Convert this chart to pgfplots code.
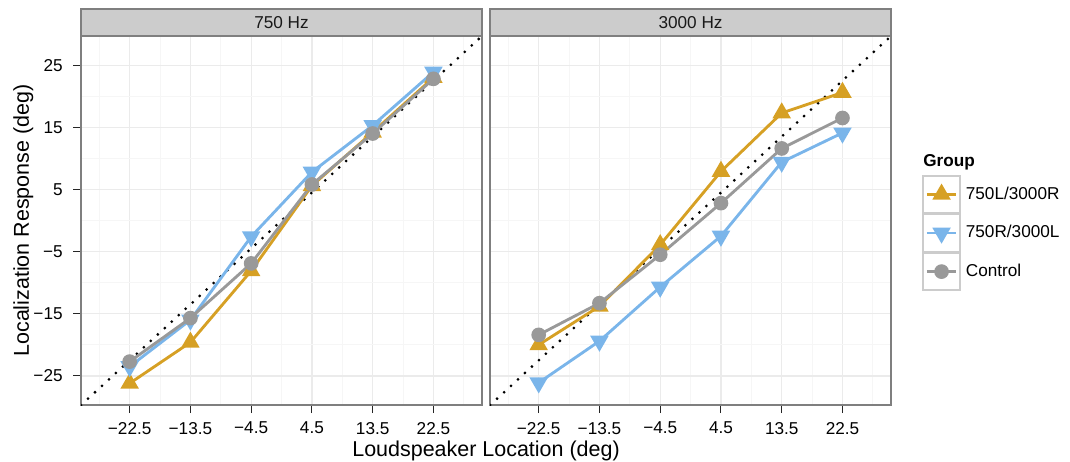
\documentclass[border=0pt]{standalone}
\usepackage{pgfplots}
\pgfplotsset{compat=1.18}
\usepackage{fontspec}
\setmainfont{Liberation Sans}
\definecolor{corange}{HTML}{D6A024}
\definecolor{cblue}{HTML}{7AB5EA}
\definecolor{cgrey}{HTML}{999999}
\definecolor{gmajor}{HTML}{EBEBEB}
\definecolor{gminor}{HTML}{F6F6F6}
\definecolor{pborder}{HTML}{7F7F7F}
\definecolor{stripfill}{HTML}{CCCCCC}
\newcommand{\tfont}{\fontsize{9.6}{11.5}\selectfont}
\pgfplotsset{
  panel/.style={
    width=224.1pt, height=206.3pt, scale only axis,
    xmin=-29.7, xmax=29.7, ymin=-29.7, ymax=29.7,
    xtick={-22.5,-13.5,-4.5,4.5,13.5,22.5},
    xticklabels={−22.5,−13.5,−4.5,4.5,13.5,22.5},
    minor xtick={-27,-18,-9,0,9,18,27},
    ytick={-25,-15,-5,5,15,25},
    yticklabels={−25,−15,−5,5,15,25},
    minor ytick={-20,-10,0,10,20},
    grid=both,
    major grid style={gmajor, line width=0.7pt},
    minor grid style={gminor, line width=0.45pt},
    axis line style={pborder, line width=0.9pt},
    tick align=outside, tickpos=left,
    major tick length=4.5pt, minor tick length=0pt,
    tick style={black!85, line width=0.6pt},
    ticklabel style={font=\tfont, text=black},
    xticklabel style={anchor=north, inner sep=0pt, yshift=-4.8pt},
    yticklabel style={anchor=east, inner sep=0pt, xshift=-5.6pt},
    every axis plot/.append style={line width=1.6pt},
    legend image code/.code={
      \draw[draw=black!20, fill=white, line width=0.9pt, solid] (0pt,-10.35pt) rectangle (20.7pt,10.35pt);
      \draw[mark repeat=2, mark phase=2] plot coordinates {(2.2pt,0pt) (10.35pt,0pt) (18.5pt,0pt)};
    },
  },
  sL/.style={corange, mark=triangle*, mark size=4.4pt, mark options={solid, fill=corange, draw=none}},
  sR/.style={cblue, mark=triangle*, mark size=4.4pt, mark options={solid, fill=cblue, draw=none, rotate=180}},
  sC/.style={cgrey, mark=*, mark size=3.3pt, mark options={solid, fill=cgrey, draw=none}},
  idline/.style={black, line width=1.7pt, line cap=round, dash pattern=on 0pt off 5.3pt, mark=none},
}
\begin{document}
\begin{tikzpicture}
\useasboundingbox (-45.3pt,-31.6pt) rectangle (552.7pt,226.4pt);
\begin{axis}[panel, at={(0pt,0pt)}, anchor=south west]
\addplot[idline, forget plot] coordinates {(-29.7,-29.7) (29.7,29.7)};
\addplot[sL] coordinates {(-22.5,-26.2) (-13.5,-19.6) (-4.5,-8.1) (4.5,5.6) (13.5,14.2) (22.5,23.0)};
\addplot[sR] coordinates {(-22.5,-23.5) (-13.5,-16.0) (-4.5,-2.6) (4.5,7.8) (13.5,15.3) (22.5,23.9)};
\addplot[sC] coordinates {(-22.5,-22.7) (-13.5,-15.7) (-4.5,-6.9) (4.5,5.8) (13.5,14.0) (22.5,22.8)};
\end{axis}
\begin{axis}[panel, at={(228.6pt,0pt)}, anchor=south west,
  yticklabels={}, y tick style={draw=none},
  legend style={at={(1.0777,0.6234)}, anchor=north west, draw=none, fill=none,
    inner sep=0pt, outer sep=0pt, row sep=0pt, column sep=0pt,
    font=\tfont, nodes={inner sep=2.8pt}},
  legend cell align=left]
\addplot[idline, forget plot] coordinates {(-29.7,-29.7) (29.7,29.7)};
\addplot[sL] coordinates {(-22.5,-20.0) (-13.5,-13.8) (-4.5,-3.9) (4.5,7.9) (13.5,17.3) (22.5,20.6)};
\addplot[sR] coordinates {(-22.5,-26.1) (-13.5,-19.4) (-4.5,-10.7) (4.5,-2.5) (13.5,9.4) (22.5,14.1)};
\addplot[sC] coordinates {(-22.5,-18.4) (-13.5,-13.3) (-4.5,-5.5) (4.5,2.8) (13.5,11.6) (22.5,16.5)};
\legend{750L/3000R, 750R/3000L, Control}
\end{axis}
% facet strips
\draw[pborder, fill=stripfill, line width=0.9pt] (0pt,206.3pt) rectangle (224.1pt,221.4pt);
\draw[pborder, fill=stripfill, line width=0.9pt] (228.6pt,206.3pt) rectangle (452.7pt,221.4pt);
\node[font=\tfont, text=black!90] at (112.05pt,213.85pt) {750 Hz};
\node[font=\tfont, text=black!90] at (340.65pt,213.85pt) {3000 Hz};
% axis titles
\node[anchor=base, font=\fontsize{12}{14}\selectfont] at (226.35pt,-28.5pt) {Loudspeaker Location (deg)};
\node[anchor=base, rotate=90, font=\fontsize{12}{14}\selectfont] at (-29.2pt,103.15pt) {Localization Response (deg)};
% legend title
\node[anchor=base west, inner sep=0pt, font=\tfont\bfseries] at (470.5pt,133.2pt) {Group};
\end{tikzpicture}
\end{document}
